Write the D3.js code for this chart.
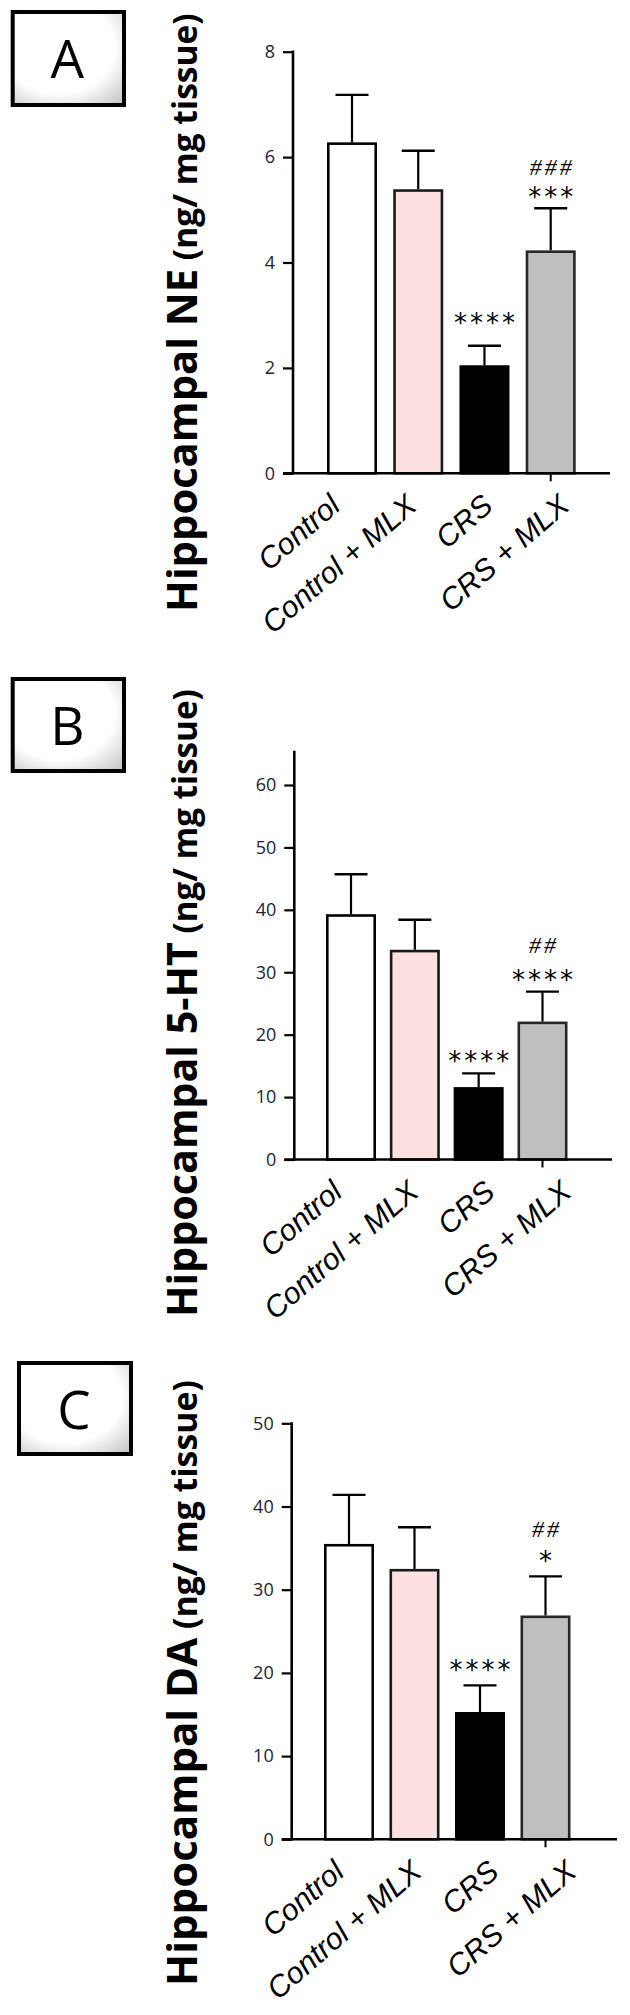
<!DOCTYPE html>
<html><head><meta charset="utf-8">
<script src="https://cdn.jsdelivr.net/npm/d3@7"></script>
<style>html,body{margin:0;padding:0;background:#fff;} svg{display:block;}</style>
</head><body>
<svg id="chart" width="630" height="2015"></svg>
<script>
// ---------- data ----------
const categories = ["Control", "Control + MLX", "CRS", "CRS + MLX"];

const neMean = [6.28, 5.39, 2.05, 4.23];
const neSem  = [0.90, 0.73, 0.37, 0.80];
const neTicks = [0, 2, 4, 6, 8];
const neStars = ["", "", "****", "***"];
const neHash  = ["", "", "", "###"];

const htMean = [39.3, 33.6, 11.6, 22.1];
const htSem  = [6.4, 4.8, 2.2, 4.8];
const htTicks = [0, 10, 20, 30, 40, 50, 60];
const htStars = ["", "", "****", "****"];
const htHash  = ["", "", "", "##"];

const daMean = [35.5, 32.5, 15.3, 26.9];
const daSem  = [5.9, 5.0, 3.2, 4.7];
const daTicks = [0, 10, 20, 30, 40, 50];
const daStars = ["", "", "****", "*"];
const daHash  = ["", "", "", "##"];

// ---------- layout / style ----------
const barFill   = ["#ffffff", "#fde0e0", "#000000", "#bfbfbf"];
const barStroke = ["#000000", "#1a1a1a", "#000000", "#262626"];

const panels = [
  { letter: "A", analyte: "NE", mean: neMean, sem: neSem, ticks: neTicks, stars: neStars, hashes: neHash,
    box: [10.7, 10, 115.3, 97], y0: 473.3, yTopTick: 51.7, axisTopVal: 8, axisX: 293,
    c0: 352, c3: 550.7, xEnd: 610, labelY: 612, labelTop: 13, lab0: 342, lab3: 571,
    starGap: [0, 0, 28, 16], hashGap: 25 },
  { letter: "B", analyte: "5-HT", mean: htMean, sem: htSem, ticks: htTicks, stars: htStars, hashes: htHash,
    box: [10.7, 677, 115.3, 96], y0: 1159.5, yTopTick: 785, axisTopVal: 65.3, axisX: 294.3,
    c0: 351, c3: 542.5, xEnd: 612, labelY: 1317, labelTop: 689, lab0: 344, lab3: 573,
    starGap: [0, 0, 17, 17], hashGap: 30 },
  { letter: "C", analyte: "DA", mean: daMean, sem: daSem, ticks: daTicks, stars: daStars, hashes: daHash,
    box: [17, 1361, 116, 95], y0: 1839.3, yTopTick: 1423.3, axisTopVal: 50, axisX: 291.7,
    c0: 349, c3: 545.5, xEnd: 617, labelY: 1986, labelTop: 1380, lab0: 346, lab3: 578,
    starGap: [0, 0, 20, 20], hashGap: 27 }
];

const svg = d3.select("#chart");
const defs = svg.append("defs");
const grad = defs.append("radialGradient").attr("id", "bevel")
  .attr("cx", "42%").attr("cy", "38%").attr("r", "80%");
grad.append("stop").attr("offset", "62%").attr("stop-color", "#ffffff");
grad.append("stop").attr("offset", "100%").attr("stop-color", "#c8c8c8");

const barW = 50, sw = 2.6, capHalf = 16.5;

panels.forEach(p => {
  const g = svg.append("g");

  // letter box
  g.append("rect")
    .attr("x", p.box[0] + 2).attr("y", p.box[1] + 2)
    .attr("width", p.box[2] - 4).attr("height", p.box[3] - 4)
    .attr("fill", "url(#bevel)").attr("stroke", "#000").attr("stroke-width", 4);
  g.append("text")
    .attr("x", p.box[0] + p.box[2] / 2 - 1).attr("y", p.box[1] + 68)
    .attr("text-anchor", "middle")
    .style("font-family", "'Open Sans', sans-serif").style("font-size", "53px")
    .attr("fill", "#000").text(p.letter);

  const y = d3.scaleLinear().domain([0, d3.max(p.ticks)]).range([p.y0, p.yTopTick]);
  const x = d3.scalePoint().domain(categories).range([p.c0, p.c3]);
  const xl = d3.scalePoint().domain(categories).range([p.lab0, p.lab3]);

  const data = categories.map((c, i) => ({ c, i, m: p.mean[i], s: p.sem[i], st: p.stars[i], h: p.hashes[i] }));

  // error bars (upper only)
  const eb = g.append("g").selectAll("g").data(data).join("g");
  eb.append("line")
    .attr("x1", d => x(d.c)).attr("x2", d => x(d.c))
    .attr("y1", d => y(d.m)).attr("y2", d => y(d.m + d.s))
    .attr("stroke", "#000").attr("stroke-width", 2.2);
  eb.append("line")
    .attr("x1", d => x(d.c) - capHalf).attr("x2", d => x(d.c) + capHalf)
    .attr("y1", d => y(d.m + d.s)).attr("y2", d => y(d.m + d.s))
    .attr("stroke", "#000").attr("stroke-width", 2.4);

  // bars
  g.append("g").selectAll("rect").data(data).join("rect")
    .attr("x", d => x(d.c) - barW / 2 + sw / 2)
    .attr("width", barW - sw)
    .attr("y", d => y(d.m) + sw / 2)
    .attr("height", d => y(0) - y(d.m) - sw / 2)
    .attr("fill", d => barFill[d.i])
    .attr("stroke", d => barStroke[d.i])
    .attr("stroke-width", sw);

  // y axis
  const yAxis = d3.axisLeft(y).tickValues(p.ticks).tickSize(10).tickPadding(8).tickSizeOuter(0);
  const ga = g.append("g").attr("transform", `translate(${p.axisX},0)`).call(yAxis);
  ga.select(".domain").remove();
  ga.selectAll(".tick line").attr("stroke", "#000").attr("stroke-width", 2.2);
  ga.selectAll(".tick text")
    .style("font-family", "'Open Sans', sans-serif").style("font-size", "18px")
    .attr("fill", "#1e2433");
  g.append("line")
    .attr("x1", p.axisX).attr("x2", p.axisX)
    .attr("y1", p.y0 + 1.2).attr("y2", y(p.axisTopVal) - 1.1)
    .attr("stroke", "#000").attr("stroke-width", 2.6);

  // x axis
  g.append("line")
    .attr("x1", p.axisX - 10).attr("x2", p.xEnd)
    .attr("y1", p.y0).attr("y2", p.y0)
    .attr("stroke", "#000").attr("stroke-width", 2.6);
  const lastCat = categories[categories.length - 1];
  g.append("line")
    .attr("x1", x(lastCat)).attr("x2", x(lastCat))
    .attr("y1", p.y0).attr("y2", p.y0 + 8)
    .attr("stroke", "#000").attr("stroke-width", 2);

  // x labels
  g.append("g").selectAll("text").data(categories).join("text")
    .attr("transform", c => `translate(${xl(c)},${p.y0 + 35}) rotate(-41)`)
    .attr("text-anchor", "end")
    .style("font-family", "'Liberation Sans', Arial, sans-serif")
    .style("font-style", "italic")
    .style("font-size", "30px")
    .attr("fill", "#000")
    .text(c => c);

  // significance marks
  const sig = g.append("g");
  data.forEach(d => {
    if (!d.st && !d.h) return;
    const top = y(d.m + d.s);
    const starC = top - (p.starGap[d.i] || 17);
    if (d.st) {
      sig.append("text")
        .attr("x", x(d.c) + 1.5).attr("y", starC + 14)
        .attr("text-anchor", "middle")
        .style("font-family", "'DejaVu Sans', sans-serif").style("font-size", "26px")
        .style("letter-spacing", "3px")
        .attr("fill", "#000").text(d.st);
    }
    if (d.h) {
      sig.append("text")
        .attr("x", x(d.c) + 1.5).attr("y", starC - p.hashGap + 8)
        .attr("text-anchor", "middle")
        .style("font-family", "'Liberation Serif', serif").style("font-style", "italic")
        .style("font-size", "24px").style("letter-spacing", "3px")
        .attr("fill", "#000").text(d.h);
    }
  });

  // y label, sized so that it spans from labelY up to labelTop
  const f1 = 41, f2 = 33;
  const yl = g.append("text")
    .attr("transform", `translate(197,${p.labelY}) rotate(-90)`)
    .attr("text-anchor", "start")
    .style("font-family", "'Open Sans', sans-serif").style("font-weight", "bold")
    .attr("fill", "#000");
  const t1 = yl.append("tspan").style("font-size", f1 + "px").text("Hippocampal " + p.analyte);
  const t2 = yl.append("tspan").style("font-size", f2 + "px").text(" (ng/ mg tissue)");
  const len = yl.node().getComputedTextLength();
  const k = (p.labelY - p.labelTop) / len;
  t1.style("font-size", (f1 * k) + "px");
  t2.style("font-size", (f2 * k) + "px");
});
</script>
</body></html>
